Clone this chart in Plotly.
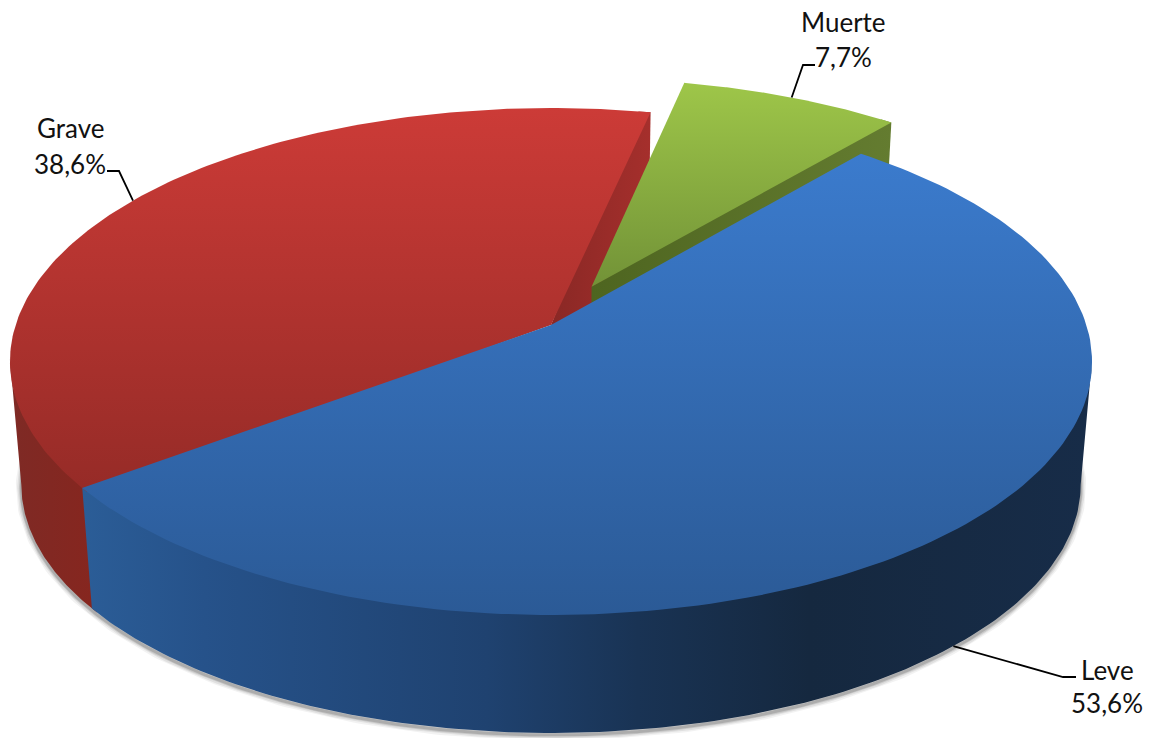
import numpy as np
import plotly.graph_objects as go

# ---- data
categories = ["Leve", "Grave", "Muerte"]
values = [53.6, 38.6, 7.7]
value_labels = ["53,6%", "38,6%", "7,7%"]
exploded = [0.0, 0.0, 0.176]

# ---- projection of the 3D pie (camera model, not data)
START_DEG = 40.0
CX, CY = 551.0, 325.0
K, M, P = 535.4, 248.2, 0.144
BASE_S, VP_Y = 0.979, 6234.0
RIM_R = np.degrees(np.arccos(-P))        # right silhouette angle
RIM_L = 360 - RIM_R                      # left silhouette angle


def top(u, v):
    d = 1 - P * np.asarray(v)
    return CX + K * np.asarray(u) / d, CY + M * np.asarray(v) / d


def base(x, y):
    return CX + BASE_S * (x - CX), VP_Y + BASE_S * (y - VP_Y)


fractions = np.array(values) / sum(values)
edges = START_DEG + 360 * np.concatenate([[0], np.cumsum(fractions)])


def offset(i):
    mid = np.radians((edges[i] + edges[i + 1]) / 2)
    return exploded[i] * np.sin(mid), -exploded[i] * np.cos(mid)


def arc(i, a0=None, a1=None, n=160):
    a0 = edges[i] if a0 is None else a0
    a1 = edges[i + 1] if a1 is None else a1
    t = np.radians(np.linspace(a0, a1, n))
    ou, ov = offset(i)
    return top(ou + np.sin(t), ov - np.cos(t))


def apex(i):
    ou, ov = offset(i)
    return top(np.array([ou]), np.array([ov]))


def polygon(xs, ys, stops, kind, start, stop):
    return go.Scatter(
        x=np.asarray(xs), y=np.asarray(ys), mode="lines", line=dict(width=0),
        fill="toself", hoverinfo="skip", showlegend=False,
        fillgradient=dict(type=kind, colorscale=stops, start=start, stop=stop),
    )


def top_face(i, stops, start, stop, lead=0.0):
    ax, ay = apex(i)
    x, y = arc(i, edges[i] - lead, edges[i + 1])
    return polygon(np.r_[ax, x, ax], np.r_[ay, y, ay], stops, "vertical", start, stop)


def side_wall(i, a0, a1, stops, start, stop):
    # the upper edge is tucked under the top face, so no seam shows between them
    x, y = arc(i, a0, a1)
    bx, by = base(x, y)
    return polygon(np.r_[x, bx[::-1], x[0]], np.r_[y - 2.5, by[::-1], y[0] - 2.5], stops, "horizontal", start, stop)


def cut_face(i, angle, stops, start, stop):
    ax, ay = apex(i)
    x, y = arc(i, angle, angle, 1)
    ix, iy = arc(i, angle - 1.5, angle - 1.5, 1)
    bx, by = base(np.r_[ax, x], np.r_[ay, y])
    return polygon(np.r_[ax, ix, x, bx[1], bx[0], ax], np.r_[ay, iy, y, by[1], by[0], ay],
                   stops, "horizontal", start, stop)


LEVE, GRAVE, MUERTE = 0, 1, 2
fig = go.Figure()

# soft shadow under the visible rim
t = np.radians(np.linspace(RIM_R - 8, RIM_L + 8, 300))
sx, sy = base(*top(np.sin(t), -np.cos(t)))
for w, a in [(11, 0.05), (8, 0.07), (5, 0.10), (3, 0.14)]:
    fig.add_trace(go.Scatter(x=sx, y=sy + 2, mode="lines", hoverinfo="skip", showlegend=False,
                             line=dict(color=f"rgba(0,0,0,{a})", width=w)))

fig.add_trace(cut_face(GRAVE, edges[2], [[0, "#8a2825"], [1, "#a52f2c"]], 552, 650))
fig.add_trace(cut_face(MUERTE, edges[3], [[0, "#4e6520"], [1, "#647c30"]], 593, 892))
fig.add_trace(top_face(MUERTE, [[0, "#9ec649"], [1, "#6f8f36"]], 83, 300))
fig.add_trace(side_wall(GRAVE, edges[1] - 1, RIM_L,
                        [[0, "#7e2a25"], [1, "#86261f"]], 10, 92))
fig.add_trace(side_wall(LEVE, RIM_R, edges[1],
                        [[0, "#2b5d97"], [0.12, "#26528a"], [0.4, "#1f4270"], [0.55, "#193354"],
                         [0.72, "#15283f"], [1, "#172c48"]], 83, 1092))
fig.add_trace(top_face(GRAVE, [[0, "#cc3b37"], [1, "#962b27"]], 108, 490, lead=1.0))
fig.add_trace(top_face(LEVE, [[0, "#3b7bcd"], [1, "#2b5a96"]], 155, 615))

# leader lines: they start at the middle of each slice's rim
elbows = {"Leve": [(1063, 677), (1076, 677)],
          "Grave": [(119, 171), (107, 171)],
          "Muerte": [(803, 65), (815, 65)]}
for i, c in enumerate(categories):
    mid = (edges[i] + edges[i + 1]) / 2
    x, y = arc(i, mid, mid, 1)
    if c == "Leve":
        x, y = base(x, y)
    xs = [x[0]] + [p[0] for p in elbows[c]]
    ys = [y[0]] + [p[1] for p in elbows[c]]
    fig.add_trace(go.Scatter(x=xs, y=ys, mode="lines", hoverinfo="skip", showlegend=False,
                             line=dict(color="#000000", width=1.8)))

text_pos = {"Leve": (1107, 670, 703), "Grave": (70, 128, 164), "Muerte": (843, 22, 57)}
FONT = dict(family="Lato", size=26, color="#111111")
for i, c in enumerate(categories):
    x, y1, y2 = text_pos[c]
    fig.add_annotation(x=x, y=y1, text=c, showarrow=False, font=FONT, xanchor="center", yanchor="middle")
    fig.add_annotation(x=x, y=y2, text=value_labels[i], showarrow=False, font=FONT, xanchor="center", yanchor="middle")

fig.update_layout(
    width=1150, height=738, margin=dict(l=0, r=0, t=0, b=0),
    paper_bgcolor="white", plot_bgcolor="white", showlegend=False,
    xaxis=dict(range=[0, 1150], visible=False, fixedrange=True),
    yaxis=dict(range=[738, 0], visible=False, fixedrange=True),
)
fig.write_html("out.html", config=dict(displayModeBar=False),
               post_script="document.body.style.margin='0';")
